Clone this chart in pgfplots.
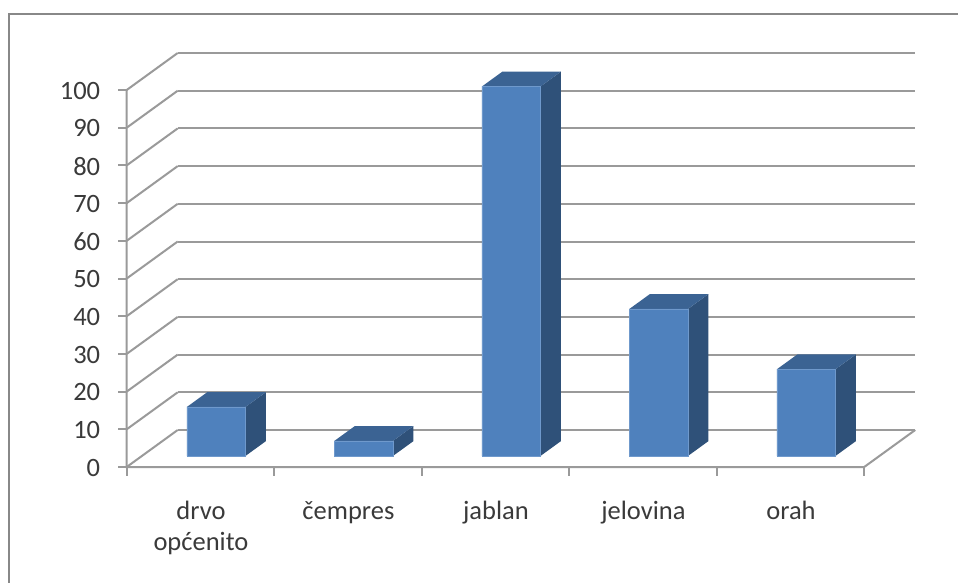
\documentclass[border=0pt]{standalone}
\usepackage{pgfplots}
\pgfplotsset{compat=1.18}
\usepackage{fontspec}
\setmainfont{Carlito}
\definecolor{frontc}{HTML}{4F81BD}
\definecolor{topc}{HTML}{3B6393}
\definecolor{sidec}{HTML}{2F5179}
\definecolor{edgec}{HTML}{6F99CC}
\definecolor{gridc}{HTML}{9A9A9A}
\definecolor{framec}{HTML}{888888}
\definecolor{textc}{HTML}{3A3A3A}
\newcommand{\threedbar}[3]{%
  \addplot3[fill=sidec,draw=none,forget plot] coordinates {(#2,0.3,0) (#2,0.7,0) (#2,0.7,#3) (#2,0.3,#3)};
  \addplot3[fill=topc,draw=none,forget plot] coordinates {(#1,0.3,#3) (#2,0.3,#3) (#2,0.7,#3) (#1,0.7,#3)};
  \addplot3[fill=frontc,draw=edgec,line width=0.5pt,forget plot] coordinates {(#1,0.3,0) (#2,0.3,0) (#2,0.3,#3) (#1,0.3,#3) (#1,0.3,0)};
}
\begin{document}
\begin{tikzpicture}
\useasboundingbox (0pt,0pt) rectangle (958pt,-583pt);
\fill[white] (0pt,0pt) rectangle (958pt,-583pt);
\draw[framec,line width=2.4pt] (9pt,-583pt) -- (9pt,-14pt) -- (958pt,-14pt);
\begin{axis}[
  at={(126.7pt,-467pt)}, anchor=origin,
  x={(147.5pt,0pt)}, y={(51pt,37pt)}, z={(0pt,3.77pt)},
  xmin=0, xmax=5, ymin=0, ymax=1, zmin=0, zmax=100,
  clip=false,
  axis line style={draw=none},
  xtick={0.5,1.5,2.5,3.5,4.5},
  xticklabels={{drvo\\općenito},{čempres},{jablan},{jelovina},{orah}},
  ytick=\empty,
  ztick={0,10,...,100},
  major tick length=0pt,
  tick style={draw=none},
  zmajorgrids=true,
  major grid style={gridc,line width=2pt},
  /pgf/number format/assume math mode=true,
  tick label style={font=\fontsize{26.5}{31}\selectfont,text=textc},
  xticklabel style={align=center,anchor=north,yshift=-31pt,xshift=0.5pt},
  zticklabel style={anchor=east,xshift=-23pt,yshift=-0.7pt},
  ztick pos=left,
  xtick pos=left,
]
% axis lines and tick marks
\addplot3[gridc,line width=2pt,forget plot] coordinates {(5,1,0) (5,0,0) (0,0,0) (0,0,100)};
\pgfplotsinvokeforeach{0,1,2,3,4,5}{
  \addplot3[gridc,line width=2pt,forget plot] coordinates {(#1,0,0) (#1,0,-2.4)};
}
\pgfplotsinvokeforeach{0,10,...,100}{
  \addplot3[gridc,line width=2pt,forget plot] coordinates {(0,0,#1) (-0.058,0,#1)};
}
% bars
\threedbar{0.305}{0.702}{13}
\threedbar{1.305}{1.702}{4}
\threedbar{2.305}{2.702}{98}
\threedbar{3.305}{3.702}{39}
\threedbar{4.305}{4.702}{23}
\end{axis}
\end{tikzpicture}
\end{document}
